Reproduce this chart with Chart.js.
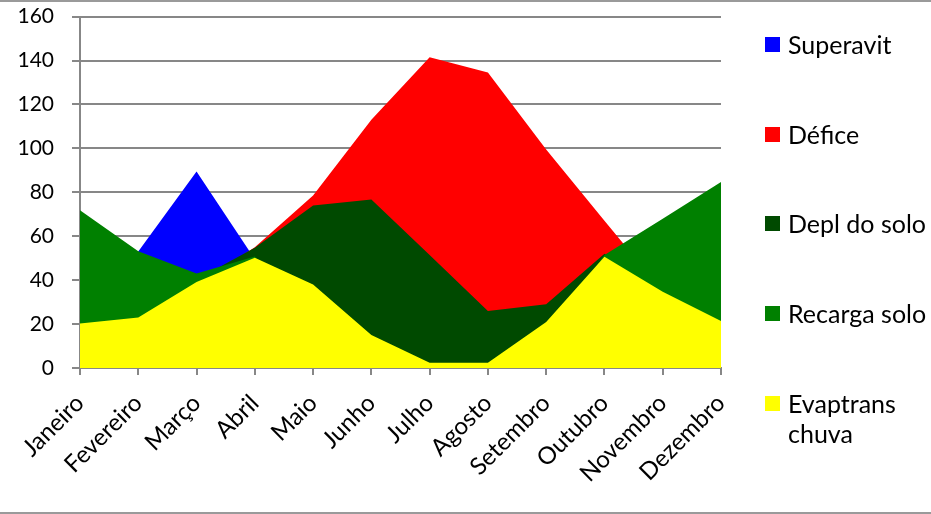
<!DOCTYPE html>
<html>
<head>
<meta charset="utf-8">
<script src="https://cdn.jsdelivr.net/npm/chart.js@4"></script>
<style>
  html, body { margin: 0; padding: 0; background: #fff; }
  #wrap { position: relative; width: 931px; height: 514px; overflow: hidden; font-family: Lato, "Open Sans", sans-serif; }
  #wrap:before, #wrap:after { content: ''; position: absolute; left: 0; right: 0; height: 2px; background: #9a9a9a; z-index: 2; }
  #wrap:before { top: 0; }
  #wrap:after { bottom: 0; }
  canvas { position: absolute; left: 0; top: -14px; }
  .leg { position: absolute; left: 765px; font-size: 25px; line-height: 30px; color: #000; }
  .leg i { position: absolute; left: 0; top: 8px; width: 15px; height: 15px; }
  .leg span { display: block; margin-left: 23px; }
</style>
</head>
<body>
<div id="wrap">
  <canvas id="c" width="931" height="528"></canvas>
  <div id="legend"></div>
</div>
<script>
// meses
const meses = ['Janeiro','Fevereiro','Março','Abril','Maio','Junho','Julho','Agosto','Setembro','Outubro','Novembro','Dezembro'];
const yTicks = [0, 20, 40, 60, 80, 100, 120, 140, 160];

// series (areas sobrepostas, a ultima do array fica por cima)
const superavit = [60, 53, 89.5, 49.5, 0, 0, 0, 0, 0, 0, 0, 0];
const defice    = [20, 23, 38, 55, 78.5, 113, 141.5, 134.5, 99.5, 67, 35, 21];
const deplSolo  = [20, 23, 40.3, 54.8, 74, 76.7, 51.5, 26, 29, 52, 35, 21];
const recarga   = [71.8, 53.2, 43, 50.8, 20, 10, 0, 0, 15, 51.4, 68, 84.7];
const evaptrans = [20.3, 23, 39.2, 50.2, 38, 15, 2.4, 2.4, 21, 50.6, 34.7, 21.4];

const nomes = ['Superavit', 'Défice', 'Depl do solo', 'Recarga solo', 'Evaptrans chuva'];
const cores = ['#0000ff', '#ff0000', '#004a00', '#008000', '#ffff00'];
const series = [superavit, defice, deplSolo, recarga, evaptrans];

const $ = s => document.querySelector(s);
const GRID = '#878787';

// legenda em HTML (Evaptrans quebra em duas linhas)
const legTop = [29, 119, 208, 298, 388];
$('#legend').innerHTML = nomes.map((n, i) =>
  `<div class="leg" style="top:${legTop[i]}px"><i style="background:${cores[i]}"></i><span${i === 4 ? ' style="width:120px"' : ''}>${n}</span></div>`
).join('');

// datasets invertidos: o indice 0 e desenhado por cima
const datasets = series.map((d, i) => ({
  label: nomes[i], data: d, fill: 'origin', backgroundColor: cores[i],
  borderWidth: 0, pointRadius: 0, tension: 0
})).reverse();

new Chart($('#c'), {
  type: 'line',
  data: { labels: meses, datasets },
  options: {
    responsive: false, animation: false,
    layout: { padding: { top: 4, right: 210, left: 0, bottom: 0 } },
    plugins: { legend: { display: false }, tooltip: { enabled: false } },
    scales: {
      x: {
        offset: false,
        afterFit: s => { s.height = 146; },
        grid: { drawOnChartArea: false, drawTicks: true, tickLength: 7, color: GRID, lineWidth: 2 },
        border: { display: true, color: GRID, width: 2 },
        ticks: { color: '#000', font: { family: 'Lato', size: 24 }, minRotation: 45, maxRotation: 45, padding: 14, autoSkip: false }
      },
      y: {
        min: 0, max: 160,
        afterFit: s => { s.width = 80; },
        afterBuildTicks: s => { s.ticks = yTicks.map(v => ({ value: v })); },
        grid: { color: GRID, lineWidth: 2, tickLength: 8 },
        border: { display: true, color: GRID, width: 2 },
        ticks: { color: '#000', font: { family: 'Lato', size: 21 }, padding: 18 }
      }
    }
  }
});
</script>
</body>
</html>
